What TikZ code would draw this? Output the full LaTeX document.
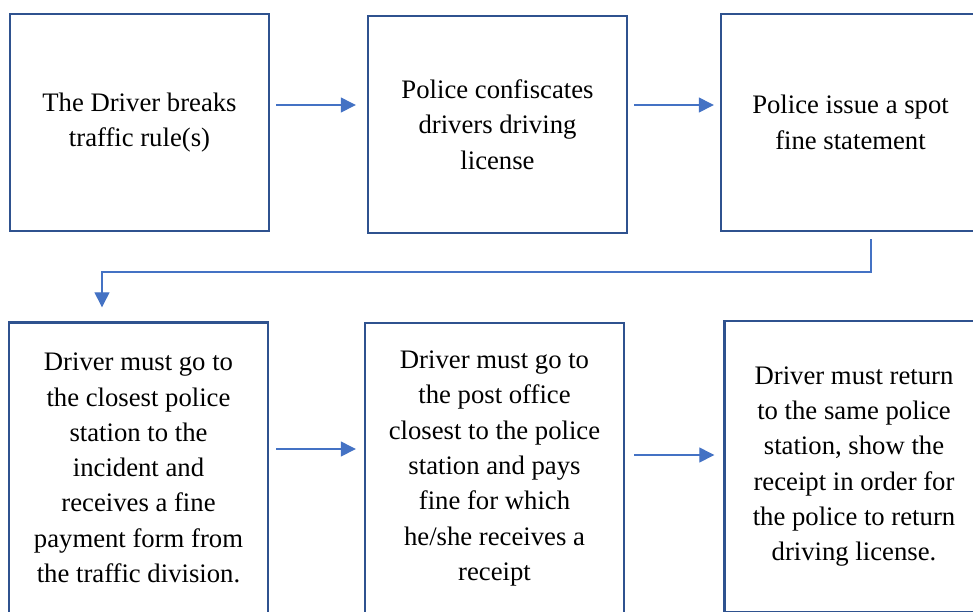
\documentclass[tikz,border=0pt]{standalone}
\usepackage{fontspec}
\setmainfont{Liberation Serif}
\usetikzlibrary{arrows.meta}
\definecolor{boxblue}{HTML}{2F528F}
\definecolor{linkblue}{HTML}{4472C4}
\begin{document}
\begin{tikzpicture}[x=1pt,y=-1pt,
  stepbox/.style={draw=boxblue,line width=2.4pt,fill=white,minimum width=259pt,
    align=center,inner sep=0pt,font=\fontsize{26.7}{35.3}\selectfont},
  toprow/.style={stepbox,minimum height=217pt},
  botrow/.style={stepbox,minimum height=291pt},
  link/.style={draw=linkblue,line width=1.3pt,
    -{Triangle[length=15pt,width=15pt]}}]
\useasboundingbox (0,0) rectangle (973,611);
\clip (0,0) rectangle (973,611);
% top row
\node[toprow] (b1) at (139.5,122.5) {The Driver breaks\\traffic rule(s)};
\node[toprow] (b2) at (497.5,124.5) {Police confiscates\\drivers driving\\license};
\node[toprow] (b3) at (850.5,122.5) {Police issue a spot\\fine statement};
% bottom row
\node[botrow] (b4) at (138.5,468) {Driver must go to\\the closest police\\station to the\\incident and\\receives a fine\\payment form from\\the traffic division.};
\node[botrow] (b5) at (494.5,468.5) {Driver must go to\\the post office\\closest to the police\\station and pays\\fine for which\\he/she receives a\\receipt};
\node[botrow] (b6) at (854,466.5) {Driver must return\\to the same police\\station, show the\\receipt in order for\\the police to return\\driving license.};
% connectors along the top row
\draw[link,shorten <=6pt,shorten >=11pt] (b1.east |- 0,105) -- (b2.west |- 0,105);
\draw[link,shorten <=6pt,shorten >=6pt] (b2.east |- 0,105) -- (b3.west |- 0,105);
% wrap-around from the top row to the bottom row
\coordinate (turnR) at (871,272);
\coordinate (turnL) at (102,272);
\draw[link,shorten <=7pt,shorten >=14pt] (b3.south -| turnR) -- (turnR) -- (turnL) -- (b4.north -| turnL);
% connectors along the bottom row
\draw[link,shorten <=7pt,shorten >=8pt] (b4.east |- 0,449) -- (b5.west |- 0,449);
\draw[link,shorten <=9pt,shorten >=9pt] (b5.east |- 0,455) -- (b6.west |- 0,455);
\end{tikzpicture}
\end{document}
